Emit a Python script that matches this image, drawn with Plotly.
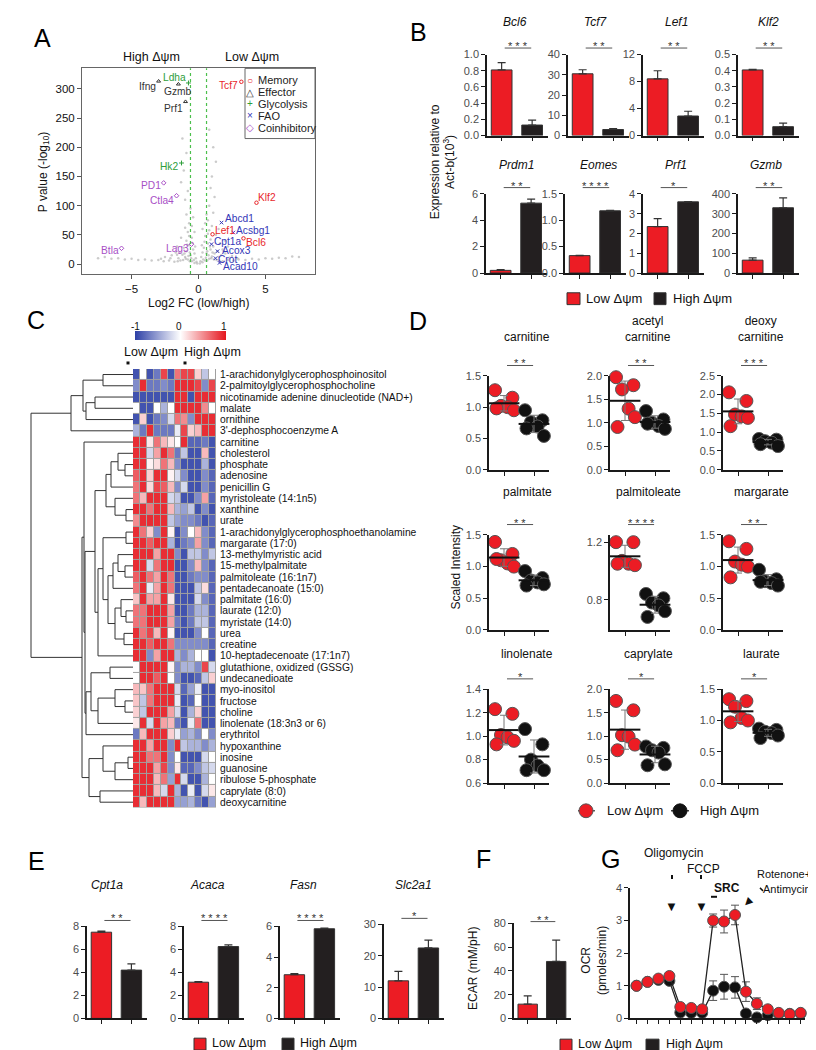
import numpy as np
import plotly.graph_objects as go

W, H = 816, 1050
FONT = "Liberation Sans, Arial, sans-serif"
RED = "#EC1C24"
BLK = "#231F20"
AX = "#1a1a1a"
TK = "#4d4d4d"

# ================= DATA =================
# ---- Panel A: volcano ----
cloud_x = [-0.3, 0.3, -0.5, 0.5, -0.8, 0.8, -1.0, 1.0, -1.2, 1.2, -1.4, 1.4, -0.2, 0.2, -0.6, 0.6,
           -0.9, 0.9, -1.1, 1.1, -0.4, 0.4, -0.7, 0.7, -0.9, 0.9, -0.5, 0.5, -0.8, 0.8, -1.0, 1.0,
           -0.7, 0.7, -0.9, 1.1, -0.6, 0.8, -1.0, 1.2, -0.8, 0.9, -1.3, 1.0, -1.1, 1.3, -0.9, 1.1,
           -1.2, 0.8, -1.8, 1.8, -2.2, 2.2, -2.6, 2.6, -3.0, 3.0, -3.5, 3.5, -4.0, 4.0, -4.5, 4.5,
           -5.0, 5.0, -5.5, 5.5, -6.0, 6.0, -6.5, 6.5, -7.0, 7.0, -7.5, 7.5, -2.0, 2.0, -1.6, 1.6,
           -1.5, 1.5, -2.5, 2.5, 1.8, 2.2, -0.3, 0.3, -0.1, 0.1, -0.65, 0.65, -1.3, 1.3, 1.5, 2.0,
           -1.7, 1.9,
           -0.15, 0.15, -0.35, 0.35, -0.55, 0.55, -0.75, 0.75, -0.95, 0.95, -1.15, 1.15, -1.35, 1.35,
           -1.55, 1.55, -0.25, 0.25, -0.45, 0.45, -0.65, 0.65, -0.85, 0.85, -1.05, 1.05, -0.3, 0.3,
           -0.5, 0.5, -0.7, 0.7, -1.6, 1.7, -2.1, 2.3, -2.8, 2.9, -0.4, 0.6]
cloud_y = [2, 3, 5, 6, 8, 9, 12, 13, 16, 18, 20, 22, 10, 12, 15, 18,
           22, 25, 28, 30, 25, 28, 32, 35, 40, 42, 45, 48, 55, 58, 62, 65,
           70, 75, 85, 88, 95, 100, 110, 115, 125, 130, 140, 150, 160, 175, 190, 200,
           215, 230, 4, 5, 6, 7, 5, 6, 7, 8, 6, 7, 8, 9, 7, 8,
           9, 10, 8, 9, 10, 11, 9, 10, 12, 13, 10, 12, 15, 18, 30, 35,
           10, 12, 12, 14, 25, 30, 18, 20, 1, 1, 5, 6, 45, 50, 60, 40,
           20, 22,
           4, 5, 7, 8, 10, 11, 14, 15, 9, 10, 7, 8, 6, 7,
           5, 6, 30, 32, 36, 38, 20, 22, 33, 30, 18, 20, 55, 60,
           65, 70, 48, 52, 16, 15, 10, 11, 9, 10, 80, 85]
a_genes = ["Tcf7", "Klf2", "Lef1", "Bcl6", "Ifng", "Gzmb", "Prf1", "Ldha", "Hk2",
           "Abcd1", "Acsbg1", "Cpt1a", "Acox3", "Crot", "Acad10", "PD1", "Ctla4", "Lag3", "Btla"]
a_lfc = [3.2, 4.33, 1.05, 3.36, -2.98, -1.5, -0.97, -0.75, -1.27,
         1.72, 2.6, 0.97, 1.42, 1.27, 1.57, -2.6, -1.64, -0.52, -5.75]
a_logp = [312, 105, 51, 44, 313, 308, 278, 310, 173,
          71, 54, 34, 22, 10, 2, 139, 117, 34, 27]
a_class = ["Memory", "Memory", "Memory", "Memory", "Effector", "Effector", "Effector",
           "Glycolysis", "Glycolysis", "FAO", "FAO", "FAO", "FAO", "FAO", "FAO",
           "Coinhibitory", "Coinhibitory", "Coinhibitory", "Coinhibitory"]
a_classes = ["Memory", "Effector", "Glycolysis", "FAO", "Coinhibitory"]

# ---- Panel B: qPCR ----
b_genes = ["Bcl6", "Tcf7", "Lef1", "Klf2", "Prdm1", "Eomes", "Prf1", "Gzmb"]
b_low = [0.81, 30.5, 8.4, 0.405, 0.2, 0.33, 2.35, 65]
b_low_err = [0.09, 2.0, 1.2, 0.004, 0.05, 0.004, 0.4, 12]
b_high = [0.13, 3.0, 2.9, 0.055, 5.3, 1.18, 3.6, 330]
b_high_err = [0.06, 0.5, 0.7, 0.022, 0.3, 0.01, 0.01, 50]
b_ymax = [1.0, 40, 12, 0.5, 6, 1.5, 4, 400]
b_dtick = [0.2, 10, 4, 0.1, 2, 0.5, 1, 100]
b_dec = [1, 0, 0, 1, 0, 1, 0, 0]
b_stars = ["***", "**", "**", "**", "**", "****", "*", "**"]

# ---- Panel C: heatmap ----
metabolites = [
    "1-arachidonylglycerophosphoinositol", "2-palmitoylglycerophosphocholine",
    "nicotinamide adenine dinucleotide (NAD+)", "malate", "ornithine",
    "3'-dephosphocoenzyme A", "carnitine", "cholesterol", "phosphate", "adenosine",
    "penicillin G", "myristoleate (14:1n5)", "xanthine", "urate",
    "1-arachidonylglycerophosphoethanolamine", "margarate (17:0)", "13-methylmyristic acid",
    "15-methylpalmitate", "palmitoleate (16:1n7)", "pentadecanoate (15:0)", "palmitate (16:0)",
    "laurate (12:0)", "myristate (14:0)", "urea", "creatine", "10-heptadecenoate (17:1n7)",
    "glutathione, oxidized (GSSG)", "undecanedioate", "myo-inositol", "fructose", "choline",
    "linolenate (18:3n3 or 6)", "erythritol", "hypoxanthine", "inosine", "guanosine",
    "ribulose 5-phosphate", "caprylate (8:0)", "deoxycarnitine"]
heat_z = [
    [-0.9, 0.0, -0.9, -0.7, 0.8, -0.9, 0.6, 0.8, 0.8, 0.2, -0.3, 0.0],
    [-0.6, 0.9, -0.7, -0.7, -0.6, -0.7, 0.9, 0.9, 0.9, 0.8, -0.6, 0.8],
    [-0.9, -0.9, -0.9, -0.9, -0.9, -0.9, 0.9, 0.9, -0.9, 0.9, 0.9, 0.9],
    [0.0, -0.9, -0.9, 0.0, -0.4, 0.0, 0.9, 0.9, 0.9, 0.9, 0.5, 0.0],
    [-0.9, 0.2, -0.9, -0.7, -0.6, -0.2, 0.6, 0.5, -0.6, 0.9, 0.9, 0.9],
    [-0.4, -0.7, 0.9, -0.7, -0.7, -0.7, -0.1, 0.8, 0.2, 0.3, 0.9, 0.9],
    [0.9, 0.9, 0.1, 0.6, 0.3, 0.1, 0.0, 0.9, -0.8, -0.8, -0.7, -0.9],
    [0.9, 0.9, -0.2, 0.4, 0.9, 0.6, -0.7, -0.3, -0.9, -0.9, 0.3, -0.9],
    [0.9, 0.9, 0.05, 0.15, 0.6, 0.3, -0.6, -0.9, -0.9, -0.9, -0.4, -0.9],
    [0.7, 0.9, 0.2, 0.9, 0.9, 0.05, -0.2, -0.6, -0.9, -0.9, -0.6, -0.8],
    [0.6, 0.9, 0.15, 0.8, 0.7, 0.3, -0.6, -0.2, -0.9, -0.9, -0.6, -0.8],
    [0.6, 0.3, 0.9, 0.9, 0.9, -0.2, -0.3, -0.9, -0.9, -0.6, 0.4, -0.8],
    [0.9, 0.9, 0.6, 0.9, 0.9, 0.3, -0.4, -0.5, -0.3, -0.9, -0.6, -0.9],
    [0.5, 0.9, 0.9, 0.9, 0.9, -0.3, -0.5, -0.6, -0.6, -0.7, -0.9, -0.8],
    [0.9, 0.6, 0.2, -0.6, 0.9, 0.05, -0.9, -0.6, 0.0, 0.3, -0.6, -0.8],
    [0.9, 0.9, 0.7, 0.9, 0.9, -0.4, -0.9, -0.7, -0.6, 0.4, -0.6, -0.8],
    [0.9, 0.9, 0.9, 0.4, 0.9, 0.9, -0.6, -0.9, -0.3, -0.3, -0.6, -0.3],
    [0.9, 0.9, -0.2, 0.6, 0.9, 0.9, -0.9, -0.9, -0.6, 0.3, -0.6, -0.8],
    [0.7, 0.9, 0.6, 0.4, 0.9, 0.6, -0.9, -0.9, -0.7, -0.6, -0.6, -0.8],
    [0.6, 0.9, -0.1, 0.4, 0.9, 0.6, -0.9, -0.9, -0.9, -0.3, 0.15, -0.8],
    [0.25, 0.9, 0.4, 0.4, 0.9, 0.1, -0.9, -0.9, -0.9, -0.2, -0.6, -0.8],
    [0.6, 0.6, 0.9, 0.9, 0.9, 0.4, -0.9, -0.9, -0.7, -0.4, -0.4, -0.8],
    [0.6, 0.6, 0.9, 0.9, 0.9, 0.4, -0.7, -0.9, -0.7, -0.3, -0.3, -0.8],
    [0.9, 0.6, 0.8, 0.3, 0.9, 0.05, -0.9, -0.9, -0.9, -0.6, 0.0, -0.8],
    [0.9, 0.9, 0.7, 0.9, 0.9, 0.6, -0.6, -0.6, -0.6, -0.6, -0.6, -0.8],
    [0.9, 0.9, -0.6, 0.4, 0.9, 0.9, -0.4, -0.6, -0.4, 0.0, 0.0, -0.9],
    [0.0, 0.9, 0.9, 0.9, 0.9, 0.05, -0.6, -0.4, -0.4, -0.6, 0.8, -0.2],
    [0.0, 0.9, 0.9, 0.7, 0.9, 0.0, -0.6, -0.9, -0.9, -0.8, -0.3, 0.2],
    [0.3, 0.25, 0.6, 0.9, 0.9, 0.9, -0.2, -0.8, -0.5, -0.1, -0.9, -0.9],
    [0.25, -0.3, 0.6, 0.9, 0.9, 0.9, -0.1, -0.9, -0.8, 0.0, -0.9, -0.9],
    [0.2, -0.3, 0.9, 0.9, 0.9, 0.4, -0.2, -0.9, -0.4, 0.2, -0.9, -0.9],
    [0.1, 0.9, -0.2, 0.9, 0.4, 0.3, -0.7, -0.9, -0.1, 0.6, -0.9, -0.9],
    [-0.7, 0.3, 0.9, 0.9, 0.9, 0.2, -0.1, -0.5, -0.4, -0.6, 0.0, -0.6],
    [0.9, 0.9, 0.4, 0.9, 0.9, -0.6, 0.9, -0.3, -0.4, -0.4, -0.6, -0.4],
    [0.9, 0.9, 0.6, 0.6, 0.9, -0.6, 0.0, -0.9, -0.9, -0.9, -0.2, 0.0],
    [0.9, 0.9, 0.9, 0.4, 0.8, -0.6, 0.1, -0.8, -0.8, -0.6, -0.3, -0.2],
    [0.9, 0.9, 0.9, 0.3, 0.6, -0.5, 0.9, -0.2, -0.9, -0.9, -0.4, 0.0],
    [0.9, 0.9, 0.9, 0.3, -0.2, 0.9, -0.4, -0.9, -0.1, -0.9, -0.2, 0.1],
    [0.9, 0.3, 0.9, 0.9, 0.9, 0.9, -0.5, -0.5, -0.4, -0.7, -0.9, -0.5],
]
# dendrogram linkage: (left, right, height); leaves are row indices
dendro_top = (((0, 1, 30), ((2, 3, 38), 4, 47), 50), 5, 62)
dendro_m1 = ((((8, 9, 8), 7, 15), 10, 22), (11, (12, 13, 7), 18), 27)
dendro_m2 = (((14, 15, 7), (((16, (17, 18, 8), 15), 19, 20),
                            ((20, (21, 22, 7), 12), (23, 24, 9), 18), 25), 30), 25, 35)
dendro_m3 = (((26, 27, 23), ((28, (29, 30, 8), 18), 31, 35), 42), 32, 47)
dendro_x = (6, ((dendro_m1, dendro_m2, 38), dendro_m3, 48), 49)
dendro_y = ((33, ((34, 35, 5), 36, 18), 30), (37, 38, 33), 44)
dendro_root = (dendro_top, (dendro_x, dendro_y, 51), 102)

# ---- Panel D: metabolite dot plots ----
d_names = ["carnitine", "acetyl<br>carnitine", "deoxy<br>carnitine",
           "palmitate", "palmitoleate", "margarate",
           "linolenate", "caprylate", "laurate"]
d_low = [[1.27, 1.15, 1.02, 1.0, 0.95, 0.98],
         [1.97, 1.8, 1.71, 1.3, 1.12, 0.91],
         [2.06, 1.83, 1.47, 1.42, 1.38, 1.16],
         [1.39, 1.2, 1.1, 1.05, 1.0, 1.12],
         [1.2, 1.2, 1.07, 1.05, 1.04, 1.05],
         [1.4, 1.28, 1.08, 1.03, 1.0, 0.83],
         [1.23, 1.19, 1.01, 0.99, 0.96, 0.93],
         [1.75, 1.55, 1.02, 0.99, 0.82, 0.7],
         [1.34, 1.31, 1.22, 1.04, 1.0, 0.97]]
d_high = [[0.95, 0.79, 0.76, 0.69, 0.54, 0.66],
          [1.25, 1.07, 1.0, 0.93, 0.87, 0.98],
          [0.82, 0.8, 0.76, 0.72, 0.63, 0.68],
          [0.93, 0.82, 0.78, 0.75, 0.72, 0.7],
          [0.84, 0.81, 0.78, 0.76, 0.72, 0.68],
          [0.95, 0.8, 0.77, 0.74, 0.7, 0.76],
          [1.06, 0.93, 0.8, 0.75, 0.71, 0.71],
          [0.78, 0.75, 0.7, 0.65, 0.4, 0.38],
          [0.87, 0.85, 0.82, 0.8, 0.76, 0.72]]
d_range = [[0, 1.5], [0, 2.0], [0, 2.5], [0, 1.5], [0.59, 1.25], [0, 1.5], [0.6, 1.4], [0, 2.0], [0, 1.5]]
d_ticks = [[0, 0.5, 1.0, 1.5], [0, 0.5, 1.0, 1.5, 2.0], [0, 0.5, 1.0, 1.5, 2.0, 2.5],
           [0, 0.5, 1.0, 1.5], [0.8, 1.2], [0, 0.5, 1.0, 1.5],
           [0.6, 0.8, 1.0, 1.2, 1.4], [0, 0.5, 1.0, 1.5, 2.0], [0, 0.5, 1.0, 1.5]]
d_stars = ["**", "**", "***", "**", "****", "**", "*", "*", "*"]

# ---- Panel E ----
e_genes = ["Cpt1a", "Acaca", "Fasn", "Slc2a1"]
e_low = [7.5, 3.15, 2.85, 12]
e_low_err = [0.1, 0.05, 0.07, 3.0]
e_high = [4.2, 6.25, 5.85, 22.5]
e_high_err = [0.55, 0.15, 0.05, 2.5]
e_ymax = [8, 8, 6, 30]
e_dtick = [2, 2, 2, 10]
e_stars = ["**", "****", "****", "*"]

# ---- Panel F ----
f_low, f_low_err = 12, 7
f_high, f_high_err = 48, 18

# ---- Panel G ----
g_low = [1.0, 1.12, 1.22, 1.3, 0.35, 0.32, 0.28, 3.0, 2.97, 3.17, 0.82, 0.45, 0.28, 0.17, 0.13, 0.17]
g_low_err = [0.02, 0.06, 0.08, 0.08, 0.08, 0.06, 0.06, 0.2, 0.35, 0.3, 0.3, 0.18, 0.1, 0.05, 0.04, 0.04]
g_high = [1.0, 1.12, 1.18, 1.15, 0.18, 0.17, 0.17, 0.85, 0.97, 0.95, 0.15, 0.03, 0.1, 0.14, 0.14, 0.15]
g_high_err = [0.02, 0.05, 0.07, 0.07, 0.04, 0.04, 0.04, 0.3, 0.38, 0.33, 0.05, 0.02, 0.05, 0.04, 0.04, 0.04]

# ================= BUILD =================
layout = dict(width=W, height=H, margin=dict(l=0, r=0, t=0, b=0),
              paper_bgcolor="white", plot_bgcolor="white", showlegend=False,
              font=dict(family=FONT, color="#111"))
traces, shapes, annos = [], [], []
n_ax = [0]


def add_axes(xpx, ypx, xkw, ykw):
    n_ax[0] += 1
    n = n_ax[0]
    s = "" if n == 1 else str(n)
    base = dict(showgrid=False, zeroline=False, fixedrange=True)
    layout["xaxis" + s] = dict(base, domain=[xpx[0] / W, xpx[1] / W], anchor="y" + s, **xkw)
    layout["yaxis" + s] = dict(base, domain=[1 - ypx[1] / H, 1 - ypx[0] / H], anchor="x" + s, **ykw)
    return "x" + s, "y" + s


def ann(text, x, y, size=12, color="#111", xanchor="center", yanchor="middle", **kw):
    annos.append(dict(text=text, x=x / W, y=1 - y / H, xref="paper", yref="paper", showarrow=False,
                      font=dict(size=size, color=color, family=FONT), xanchor=xanchor,
                      yanchor=yanchor, **kw))


def rect_px(x0, y0, x1, y1, fill, line="#333", lw=1):
    shapes.append(dict(type="rect", xref="paper", yref="paper", x0=x0 / W, x1=x1 / W,
                       y0=1 - y1 / H, y1=1 - y0 / H, fillcolor=fill, line=dict(color=line, width=lw)))


def line_px(x0, y0, x1, y1, color="#111", lw=1):
    shapes.append(dict(type="line", xref="paper", yref="paper", x0=x0 / W, x1=x1 / W,
                       y0=1 - y0 / H, y1=1 - y1 / H, line=dict(color=color, width=lw)))


def circle_px(cx, cy, r, fill, line="#555", lw=1):
    shapes.append(dict(type="circle", xref="paper", yref="paper", x0=(cx - r) / W, x1=(cx + r) / W,
                       y0=1 - (cy + r) / H, y1=1 - (cy - r) / H, fillcolor=fill,
                       line=dict(color=line, width=lw)))


def prism_y(rng, tickvals, dec):
    return dict(range=rng, tickvals=tickvals, ticktext=[f"{v:.{dec}f}" for v in tickvals],
                ticks="outside", ticklen=4, tickwidth=1.2, tickcolor=AX, showline=True,
                linecolor=AX, linewidth=1.6, tickfont=dict(size=11, color=TK, family=FONT))


def prism_x(rng, tickvals):
    return dict(range=rng, tickvals=tickvals, showticklabels=False, ticks="outside",
                ticklen=4, tickwidth=1.2, tickcolor=AX, showline=True, linecolor=AX, linewidth=1.6)


def sig(xr, yr, yfrac, stars, x0=0.1, x1=0.97):
    shapes.append(dict(type="line", xref=xr, yref=yr + " domain", x0=x0, x1=x1, y0=yfrac, y1=yfrac,
                       line=dict(color="#555", width=1)))
    annos.append(dict(text=" ".join(stars), x=(x0 + x1) / 2, y=yfrac, xref=xr, yref=yr + " domain",
                      showarrow=False, yanchor="middle", yshift=2,
                      font=dict(size=11, color="#333", family=FONT)))


def bar_pair(xpx, ypx, low, lerr, high, herr, ymax, dtick, dec):
    tv = list(np.round(np.arange(0, ymax + dtick / 2, dtick), 6))
    xr, yr = add_axes(xpx, ypx, prism_x([-0.48, 1.52], [0, 1]), prism_y([0, ymax], tv, dec))
    traces.append(go.Bar(x=[0, 1], y=[low, high], width=0.68,
                         marker=dict(color=[RED, BLK], line=dict(color="#333", width=1)),
                         error_y=dict(type="data", array=[lerr, herr], arrayminus=[0, 0], symmetric=False,
                                      color="#333", thickness=1.2, width=4),
                         xaxis=xr, yaxis=yr, hoverinfo="skip"))
    return xr, yr


# ---------- Panel A ----------
CLS = {"Memory": ("#E8262B", "circle-open", "○"),
       "Effector": ("#333333", "triangle-up-open", "△"),
       "Glycolysis": ("#2E9E3A", "cross-thin-open", "+"),
       "FAO": ("#3437B8", "x-thin-open", "×"),
       "Coinhibitory": ("#A84FC6", "diamond-open", "◇")}
# label placement (side, xshift px, yshift px)
label_pos = {"Tcf7": ("L", -1, -4), "Klf2": ("R", 0, 5), "Lef1": ("R", 0, 4), "Bcl6": ("R", 1, -4),
             "Ifng": ("L", -1, -5), "Gzmb": ("B", 0, 0), "Prf1": ("L", -1, -7), "Ldha": ("L", 0, 5),
             "Hk2": ("L", -1, -3), "Abcd1": ("R", 1, 4), "Acsbg1": ("R", 1, 2), "Cpt1a": ("R", 1, 3),
             "Acox3": ("R", 2, 1), "Crot": ("R", 0, -1), "Acad10": ("R", 1, -4), "PD1": ("L", -1, -3),
             "Ctla4": ("L", -1, -5), "Lag3": ("L", -1, -4), "Btla": ("L", -1, -2)}
axA = dict(ticks="outside", ticklen=4, tickcolor="#555", showline=True, mirror=True,
           linecolor="#666", linewidth=1, tickfont=dict(size=11.5, color="#111", family=FONT))
xa, ya = add_axes((74, 307), (55, 263), dict(axA, range=[-8.7, 8.7], tickvals=[-5, 0, 5]),
                  dict(axA, range=[-17, 335], tickvals=list(range(0, 301, 50))))
traces.append(go.Scatter(x=cloud_x, y=cloud_y, mode="markers",
                         marker=dict(size=2.5, color="#8c8c8c", opacity=0.45),
                         xaxis=xa, yaxis=ya, hoverinfo="skip"))
for v in (-0.6, 0.6):
    shapes.append(dict(type="line", xref=xa, yref=ya + " domain", x0=v, x1=v, y0=0, y1=1,
                       line=dict(color="#4CBF4C", width=1.2, dash="dot")))
for c in a_classes:
    col, sym, _ = CLS[c]
    idx = [i for i, k in enumerate(a_class) if k == c]
    traces.append(go.Scatter(x=[a_lfc[i] for i in idx], y=[a_logp[i] for i in idx], mode="markers",
                             marker=dict(symbol=sym, size=3.5, color=col, line=dict(color=col, width=1)),
                             xaxis=xa, yaxis=ya, cliponaxis=False, hoverinfo="skip"))
for i, g in enumerate(a_genes):
    col = CLS[a_class[i]][0]
    side, xs, ys = label_pos[g]
    d = dict(text=g, x=a_lfc[i], y=a_logp[i], xref=xa, yref=ya, showarrow=False,
             font=dict(size=10.2, color=col, family=FONT), xshift=xs, yshift=ys)
    if side == "L":
        d.update(xanchor="right", yanchor="middle")
    elif side == "R":
        d.update(xanchor="left", yanchor="middle")
    else:
        d.update(xanchor="center", yanchor="top")
    annos.append(d)
# legend box
rect_px(237, 55, 307, 126, "white", line="#666", lw=1)
for k, c in enumerate(a_classes):
    col, _, glyph = CLS[c]
    yy = 67 + 12 * k
    ann(glyph, 242, yy, size=10, color=col)
    ann(c, 248, yy, size=11, color="#222", xanchor="left")
ann("High Δψm", 143, 43, size=12.5)
ann("Low Δψm", 244, 43, size=12.5)
ann("Log2 FC (low/high)", 190, 292, size=12)
ann("P value (-log<sub>10</sub>)", 36, 160, size=12, textangle=-90)

# ---------- Panel B ----------
b_x0 = [479, 560, 635, 730, 478, 557, 635, 730]
b_ypx = [(41, 123)] * 4 + [(182, 262)] * 4
b_tx = [507, 588, 668, 760, 508, 590, 668, 758]
b_ty = [8] * 4 + [153] * 4
for i in range(8):
    xr, yr = bar_pair((b_x0[i], b_x0[i] + 61), b_ypx[i], b_low[i], b_low_err[i], b_high[i],
                      b_high_err[i], b_ymax[i], b_dtick[i], b_dec[i])
    sig(xr, yr, 1.08, b_stars[i])
    ann("<i>%s</i>" % b_genes[i], b_tx[i], b_ty[i], size=12)
ann("Expression relative to<br>Act-b(10<sup>3</sup>)", 435, 150, size=12, textangle=-90)
rect_px(559, 282, 572, 294, RED)
ann("Low Δψm", 576, 288, size=13, xanchor="left")
rect_px(646, 282, 658, 294, BLK)
ann("High Δψm", 663, 288, size=13, xanchor="left")

# ---------- Panel C ----------
n_rows, n_cols = len(metabolites), len(heat_z[0])
hx, hy = add_axes((125, 208), (359, 803),
                  dict(range=[-0.5, n_cols - 0.5], showticklabels=False, ticks="", showline=False),
                  dict(range=[n_rows - 0.5, -0.5], side="right", tickvals=list(range(n_rows)),
                       ticktext=metabolites, ticks="", showline=False, ticklabelstandoff=3,
                       tickfont=dict(size=10.3, color="#111", family=FONT)))
shapes.append(dict(type="rect", xref=hx, yref=hy, x0=-0.5, x1=n_cols - 0.5, y0=-0.5, y1=n_rows - 0.5,
                   fillcolor="#a0a0a0", line=dict(width=0), layer="below"))
traces.append(go.Heatmap(z=heat_z, x=list(range(n_cols)), y=list(range(n_rows)), zmin=-1, zmax=1,
                         colorscale=[[0, "#2D40A6"], [0.5, "#FFFFFF"], [1, "#E5161E"]],
                         xgap=1, ygap=1, xaxis=hx, yaxis=hy, hoverinfo="skip",
                         colorbar=dict(orientation="h", len=91, lenmode="pixels", thickness=9,
                                       thicknessmode="pixels", x=172.5 / W, xanchor="center",
                                       y=1 - 330 / H, yanchor="bottom", showticklabels=False,
                                       ticks="", outlinewidth=0, xpad=0, ypad=0)))
ann("-1", 127, 316, size=10)
ann("0", 171, 316, size=10)
ann("1", 216, 316, size=10)
ann("Low Δψm", 143, 342, size=12.5)
ann("High Δψm", 204, 342, size=12.5)
rect_px(118.5, 351.5, 121.5, 354.5, "#111", lw=0)
rect_px(175.5, 351.5, 178.5, 354.5, "#111", lw=0)

segs_x, segs_y = [], []


def walk(node):
    if isinstance(node, int):
        return float(node), 0.0
    l, r, h = node
    yl, hl = walk(l)
    yr_, hr = walk(r)
    segs_x.extend([hl, h, None, hr, h, None, h, h, None])
    segs_y.extend([yl, yl, None, yr_, yr_, None, yl, yr_, None])
    return (yl + yr_) / 2, h


walk(dendro_root)
dx, dy = add_axes((22, 125), (359, 803), dict(range=[103, 0], visible=False),
                  dict(range=[n_rows - 0.5, -0.5], visible=False))
traces.append(go.Scatter(x=segs_x, y=segs_y, mode="lines", line=dict(color="#333", width=1),
                         xaxis=dx, yaxis=dy, hoverinfo="skip", cliponaxis=False))

# ---------- Panel D ----------
d_x0 = [481, 602, 715] * 3
d_ypx = [(366, 461)] * 3 + [(527, 623)] * 3 + [(683, 778)] * 3
d_ty = [336, 336, 336, 484, 484, 484, 647, 647, 647]
jit = [-0.3, 0.28, -0.1, 0.12, 0.33, -0.25]
for i in range(9):
    xr, yr = add_axes((d_x0[i], d_x0[i] + 60), d_ypx[i], prism_x([-0.5, 1.5], [0, 1]),
                      prism_y(d_range[i], d_ticks[i], 1))
    for gi, (vals, col) in enumerate(((d_low[i], RED), (d_high[i], "#111"))):
        traces.append(go.Scatter(x=[gi + j for j in jit], y=vals, mode="markers",
                                 marker=dict(size=13, color=col, line=dict(color="#555", width=1)),
                                 xaxis=xr, yaxis=yr, cliponaxis=False, hoverinfo="skip"))
        traces.append(go.Scatter(x=[gi], y=[float(np.mean(vals))], mode="markers",
                                 marker=dict(symbol="line-ew", size=22, color="#111",
                                             line=dict(color="#111", width=2)),
                                 error_y=dict(type="data", array=[float(np.std(vals, ddof=1))],
                                              color="#777", thickness=1, width=4),
                                 xaxis=xr, yaxis=yr, cliponaxis=False, hoverinfo="skip"))
    sig(xr, yr, 1.11, d_stars[i], x0=0.1, x1=0.97)
    if i < 3:
        ann(d_names[i], d_x0[i] + 38, d_ty[i], size=12, yanchor="bottom")
    else:
        ann(d_names[i], d_x0[i] + 38, d_ty[i], size=12)
ann("Scaled Intensity", 448, 560, size=12, textangle=-90)
line_px(570, 806, 587, 806, color="#333", lw=1.2)
circle_px(578, 806, 7, RED)
ann("Low Δψm", 597, 806, size=13, xanchor="left")
line_px(663, 806, 681, 806, color="#111", lw=1.2)
circle_px(672, 806, 7, "#111", line="#111")
ann("High Δψm", 690, 806, size=13, xanchor="left")

# ---------- Panel E ----------
e_x0 = [79, 176, 272, 376]
e_ytop = [923, 923, 923, 921]
e_tx = [99, 199, 295, 405]
for i in range(4):
    xr, yr = bar_pair((e_x0[i], e_x0[i] + 60), (e_ytop[i], 1016), e_low[i], e_low_err[i], e_high[i],
                      e_high_err[i], e_ymax[i], e_dtick[i], 0)
    sig(xr, yr, 1.065, e_stars[i])
    ann("<i>%s</i>" % e_genes[i], e_tx[i], 881, size=12)
rect_px(186, 1036, 198, 1048, RED)
ann("Low Δψm", 202, 1041, size=12.5, xanchor="left")
rect_px(274, 1036, 286, 1048, BLK)
ann("High Δψm", 290, 1041, size=12.5, xanchor="left")

# ---------- Panel F ----------
xr, yr = bar_pair((506, 563), (920, 1016), f_low, f_low_err, f_high, f_high_err, 80, 20, 0)
sig(xr, yr, 1.02, "**")
ann("ECAR (mM/pH)", 465, 966, size=12, textangle=-90)

# ---------- Panel G ----------
gx = list(range(len(g_low)))
xr, yr = add_axes((622, 797), (884, 1016), prism_x([-0.6, len(g_low) - 0.6], gx),
                  prism_y([0, 4], [0, 1, 2, 3, 4], 0))
for vals, errs, col in ((g_high, g_high_err, "#111"), (g_low, g_low_err, RED)):
    traces.append(go.Scatter(x=gx, y=vals, mode="lines+markers", line=dict(color="#222", width=1.3),
                             marker=dict(size=11, color=col, line=dict(color="#555", width=1)),
                             error_y=dict(type="data", array=errs, color="#555", thickness=1, width=4),
                             xaxis=xr, yaxis=yr, cliponaxis=False, hoverinfo="skip"))
ann("OCR<br>(pmoles/min)", 586, 958, size=12, textangle=-90)
ann("Oligomycin", 665, 849, size=12)
ann("FCCP", 695, 865, size=12)
ann("<b>SRC</b>", 719, 884, size=12)
ann("Rotenone+", 805, 870, size=11, xanchor="right")
ann("Antimycin", 805, 885, size=11, xanchor="right")
line_px(664, 871, 664, 875, lw=2)
line_px(693, 871, 693, 875, lw=2)
line_px(703, 893, 709, 893, lw=2)
line_px(752, 884, 755, 887, lw=1.5)
ann("▼", 663, 903, size=13)
ann("▼", 693, 903, size=13)
ann("▼", 740, 898, size=13, textangle=45)
rect_px(552, 1037, 564, 1049, RED)
ann("Low Δψm", 568, 1042, size=12.5, xanchor="left")
rect_px(638, 1037, 651, 1049, BLK)
ann("High Δψm", 656, 1042, size=12.5, xanchor="left")

# ---------- Panel letters ----------
for letter, x, y in (("A", 34, 24), ("B", 410, 18), ("C", 28, 310), ("D", 410, 311),
                     ("E", 28, 857), ("F", 475, 855), ("G", 602, 855)):
    ann(letter, x, y, size=25, color="#000")

layout["shapes"] = shapes
layout["annotations"] = annos
fig = go.Figure(data=traces, layout=layout)
fig.write_html("out.html")
